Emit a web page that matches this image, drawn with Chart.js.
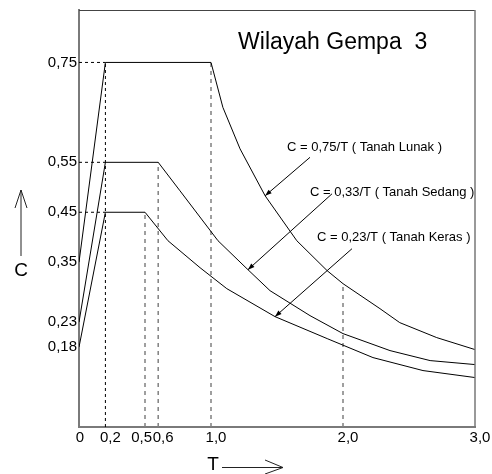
<!DOCTYPE html>
<html>
<head>
<meta charset="utf-8">
<script src="https://cdn.jsdelivr.net/npm/chart.js@4.4.1/dist/chart.umd.min.js"></script>
<style>
  html, body { margin: 0; padding: 0; background: #fff; }
</style>
</head>
<body>
<canvas id="spectrumChart" width="492" height="474"></canvas>
<script>
// Spectrum values (T = period, C = coefficient)
const tLunak = [0, 0.2, 1.0, 1.09, 1.22, 1.41, 1.65, 1.88, 2.0, 2.28, 2.43, 2.71, 3.0];
const cLunak = [0.35, 0.75, 0.75, 0.66, 0.577, 0.483, 0.393, 0.333, 0.307, 0.257, 0.229, 0.199, 0.175];

const tSedang = [0, 0.2, 0.6, 0.765, 1.053, 1.28, 1.447, 1.75, 2.0, 2.356, 2.66, 3.0];
const cSedang = [0.23, 0.55, 0.55, 0.493, 0.393, 0.335, 0.293, 0.243, 0.207, 0.173, 0.153, 0.145];

const tKeras = [0, 0.2, 0.5, 0.674, 0.917, 1.12, 1.485, 1.88, 2.227, 2.606, 3.0];
const cKeras = [0.18, 0.45, 0.45, 0.393, 0.339, 0.297, 0.241, 0.197, 0.159, 0.133, 0.119];

// Tick values on both axes
const xTicks = [0, 0.2, 0.5, 0.6, 1.0, 2.0, 3.0];
const yTicks = [0.75, 0.55, 0.45, 0.35, 0.23, 0.18];

// Periods that get a dashed drop line down to the T axis
const dropT = [0.2, 0.5, 0.6, 1.0, 2.0];

const Y_MIN = 0.02;
const Y_MAX = 0.855;
const FONT = '"Liberation Sans", Arial, sans-serif';

const series = [[tLunak, cLunak], [tSedang, cSedang], [tKeras, cKeras]];

function toPoints(ts, cs) {
  return ts.map((t, i) => ({ x: t, y: cs[i] }));
}

// highest curve value at a given period (used for the drop lines)
function topValueAt(t) {
  let best = -Infinity;
  series.forEach(([ts, cs]) => {
    ts.forEach((v, i) => { if (v === t) best = Math.max(best, cs[i]); });
  });
  return best;
}

function comma(v, digits) {
  return v === 0 ? '0' : v.toFixed(digits).replace('.', ',');
}

// Text labels with arrows pointing at a point on a curve (tip = [dataset, point])
const notes = [
  { text: 'C = 0,75/T ( Tanah Lunak )', at: [1.576, 0.579], tail: [1.75, 0.56], tip: [0, 5] },
  { text: 'C = 0,33/T ( Tanah Sedang )', at: [1.75, 0.489], tail: [1.917, 0.487], tip: [1, 5] },
  { text: 'C = 0,23/T ( Tanah Keras )', at: [1.803, 0.399], tail: [2.068, 0.377], tip: [2, 6] }
];

const datasets = [];

// the three spectrum curves
[['Tanah Lunak', tLunak, cLunak], ['Tanah Sedang', tSedang, cSedang], ['Tanah Keras', tKeras, cKeras]]
  .forEach(([label, ts, cs]) => {
    datasets.push({
      label: label,
      data: toPoints(ts, cs),
      borderColor: '#000',
      borderWidth: 1,
      pointRadius: 0,
      tension: 0,
      fill: false,
      order: 0
    });
  });

// horizontal dashed lines from the C axis to the plateau start
series.forEach(([ts, cs]) => {
  datasets.push({
    data: [{ x: 0, y: cs[1] }, { x: ts[1], y: cs[1] }],
    borderColor: '#000',
    borderWidth: 1,
    borderDash: [3, 3],
    pointRadius: 0,
    order: 1
  });
});

// vertical dashed drop lines
dropT.forEach((t, i) => {
  datasets.push({
    data: [{ x: t, y: Y_MIN }, { x: t, y: topValueAt(t) }],
    borderColor: i === 0 ? '#000' : '#808080',
    borderWidth: i === 0 ? 1 : 1.5,
    borderDash: i === 0 ? [3, 3] : [4, 4],
    pointRadius: 0,
    order: 1
  });
});

function arrowHead(ctx, fromX, fromY, toX, toY, size) {
  const ang = Math.atan2(toY - fromY, toX - fromX);
  ctx.beginPath();
  ctx.moveTo(toX, toY);
  ctx.lineTo(toX - size * Math.cos(ang - 0.35), toY - size * Math.sin(ang - 0.35));
  ctx.lineTo(toX - size * Math.cos(ang + 0.35), toY - size * Math.sin(ang + 0.35));
  ctx.closePath();
  ctx.fill();
}

// frame, title, notes and the axis titles with arrows
const decorPlugin = {
  id: 'decor',
  afterDraw(chart) {
    const { ctx, chartArea: a, scales: { x, y } } = chart;
    ctx.save();

    // top + right frame
    ctx.lineWidth = 1;
    ctx.strokeStyle = '#444';
    ctx.beginPath();
    ctx.moveTo(a.left, a.top + 0.5);
    ctx.lineTo(a.right, a.top + 0.5);
    ctx.stroke();
    ctx.lineWidth = 1.5;
    ctx.strokeStyle = '#777';
    ctx.beginPath();
    ctx.moveTo(a.right, a.top);
    ctx.lineTo(a.right, a.bottom);
    ctx.stroke();

    ctx.fillStyle = '#000';
    ctx.textAlign = 'left';
    ctx.textBaseline = 'middle';
    ctx.font = '23px ' + FONT;
    ctx.fillText('Wilayah Gempa  3', x.getPixelForValue(1.205), y.getPixelForValue(0.79));

    ctx.font = '13px ' + FONT;
    ctx.strokeStyle = '#000';
    ctx.lineWidth = 1;
    notes.forEach(n => {
      ctx.fillText(n.text, x.getPixelForValue(n.at[0]), y.getPixelForValue(n.at[1]));
      const pt = chart.getDatasetMeta(n.tip[0]).data[n.tip[1]];
      const tx = x.getPixelForValue(n.tail[0]);
      const ty = y.getPixelForValue(n.tail[1]);
      ctx.beginPath();
      ctx.moveTo(tx, ty);
      ctx.lineTo(pt.x, pt.y);
      ctx.stroke();
      arrowHead(ctx, tx, ty, pt.x, pt.y, 7);
    });

    // C axis title with upward arrow
    const cx = a.left - 58;
    ctx.strokeStyle = '#222';
    ctx.lineWidth = 1;
    ctx.beginPath();
    ctx.moveTo(cx, 256); ctx.lineTo(cx, 190);
    ctx.moveTo(cx - 6, 208); ctx.lineTo(cx, 190); ctx.lineTo(cx + 6, 208);
    ctx.stroke();
    ctx.textAlign = 'center';
    ctx.font = '19px ' + FONT;
    ctx.fillText('C', cx, 271);

    // T axis title with arrow to the right
    ctx.fillText('T', 213, 465);
    ctx.beginPath();
    ctx.moveTo(222, 467.5); ctx.lineTo(283, 467.5);
    ctx.moveTo(265, 460); ctx.lineTo(283, 467.5); ctx.lineTo(265, 474);
    ctx.stroke();

    ctx.restore();
  }
};

// x labels sit a little right of their ticks; 0 and 0,5 are nudged back
function xLabel(v) {
  if (v === 0) return '0  ';
  if (v === 0.5) return '0,5    ';
  return comma(v, 1);
}

const ctx = document.getElementById('spectrumChart').getContext('2d');
new Chart(ctx, {
  type: 'line',
  data: { datasets: datasets },
  options: {
    responsive: false,
    animation: false,
    layout: { padding: { top: 10, right: 17, bottom: 0, left: 0 } },
    plugins: { legend: { display: false }, tooltip: { enabled: false } },
    scales: {
      x: {
        type: 'linear',
        min: 0,
        max: 3,
        grid: { display: false, drawTicks: false },
        border: { display: true, color: '#7a7a7a', width: 2 },
        afterBuildTicks: s => { s.ticks = xTicks.map(v => ({ value: v })); },
        afterFit: s => { s.height = 47; s.paddingLeft = 0; s.paddingRight = 0; },
        ticks: {
          autoSkip: false,
          maxRotation: 0,
          padding: 2,
          labelOffset: 5,
          color: '#000',
          font: { family: FONT, size: 15 },
          callback: v => xLabel(v)
        }
      },
      y: {
        type: 'linear',
        min: Y_MIN,
        max: Y_MAX,
        grid: { display: false, drawTicks: false },
        border: { display: true, color: '#7a7a7a', width: 2 },
        afterBuildTicks: s => { s.ticks = yTicks.map(v => ({ value: v })); },
        afterFit: s => { s.width = 79; s.paddingTop = 0; s.paddingBottom = 0; },
        ticks: {
          autoSkip: false,
          padding: 2,
          color: '#000',
          font: { family: FONT, size: 15 },
          callback: v => comma(v, 2)
        }
      }
    }
  },
  plugins: [decorPlugin]
});
</script>
</body>
</html>
